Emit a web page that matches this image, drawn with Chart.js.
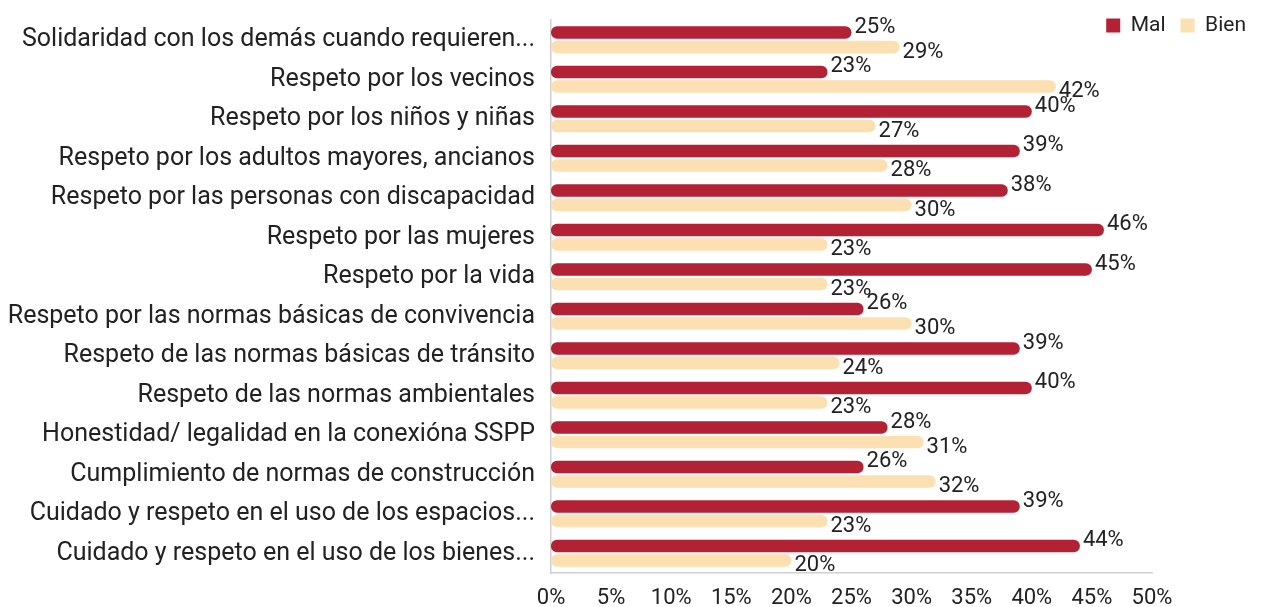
<!DOCTYPE html>
<html>
<head>
<meta charset="utf-8">
<script src="https://cdn.jsdelivr.net/npm/chart.js@4.4.0/dist/chart.umd.min.js"></script>
<style>
  html, body { margin: 0; padding: 0; background: #fff; }
  #wrap { width: 1261px; height: 607px; }
</style>
</head>
<body>
<div id="wrap"><canvas id="grafico"></canvas></div>
<script>
// datos
var categorias = [
  'Solidaridad con los demás cuando requieren...',
  'Respeto por los vecinos',
  'Respeto por los niños y niñas',
  'Respeto por los adultos mayores, ancianos',
  'Respeto por las personas con discapacidad',
  'Respeto por las mujeres',
  'Respeto por la vida',
  'Respeto por las normas básicas de convivencia',
  'Respeto de las normas básicas de tránsito',
  'Respeto de las normas ambientales',
  'Honestidad/ legalidad en la conexióna SSPP',
  'Cumplimiento de normas de construcción',
  'Cuidado y respeto en el uso de los espacios...',
  'Cuidado y respeto en el uso de los bienes...'
];
var valoresMal  = [25, 23, 40, 39, 38, 46, 45, 26, 39, 40, 28, 26, 39, 44];
var valoresBien = [29, 42, 27, 28, 30, 23, 23, 30, 24, 23, 31, 32, 23, 20];
var ticksX = [0, 5, 10, 15, 20, 25, 30, 35, 40, 45, 50];

var colorMal = '#b22234';
var colorBien = '#fde0b2';

// etiquetas de porcentaje al final de cada barra
var etiquetas = {
  id: 'etiquetas',
  afterLayout: function(chart) {
    // la leyenda no debe recortarse aunque ocupe poco alto
    chart.legend.bottom = chart.legend.top + 45;
  },
  afterDatasetsDraw: function(chart) {
    var ctx = chart.ctx;
    ctx.save();
    ctx.font = '22px Roboto';
    ctx.fillStyle = '#222';
    ctx.textBaseline = 'middle';
    ctx.textAlign = 'left';
    chart.data.datasets.forEach(function(ds, i) {
      var meta = chart.getDatasetMeta(i);
      var dy = i === 0 ? -5 : 5;
      meta.data.forEach(function(bar, j) {
        ctx.fillText(ds.data[j] + '%', bar.x + 3, bar.y + dy);
      });
    });
    ctx.restore();
  }
};

var ctxGrafico = document.getElementById('grafico').getContext('2d');
new Chart(ctxGrafico, {
  type: 'bar',
  data: {
    labels: categorias,
    datasets: [
      {
        label: 'Mal',
        data: valoresMal,
        backgroundColor: colorMal,
        borderRadius: 6,
        borderSkipped: false,
        categoryPercentage: 0.74,
        barPercentage: 0.86
      },
      {
        label: 'Bien',
        data: valoresBien,
        backgroundColor: colorBien,
        borderRadius: 6,
        borderSkipped: false,
        categoryPercentage: 0.74,
        barPercentage: 0.86
      }
    ]
  },
  options: {
    indexAxis: 'y',
    responsive: true,
    maintainAspectRatio: false,
    animation: false,
    layout: { padding: 0 },
    plugins: {
      tooltip: { enabled: false },
      legend: {
        position: 'top',
        align: 'end',
        maxHeight: 20,
        labels: {
          boxWidth: 14,
          boxHeight: 14,
          padding: 15,
          color: '#222',
          font: { family: 'Roboto', size: 21 }
        }
      }
    },
    scales: {
      x: {
        min: 0,
        max: 50,
        afterBuildTicks: function(s) {
          s.ticks = ticksX.map(function(v) { return { value: v }; });
        },
        afterFit: function(s) {
          s.height = 34;
          s.paddingLeft = 0;
          s.paddingRight = 0;
        },
        grid: { display: false, drawTicks: false },
        border: { display: true, color: '#cfcfcf', width: 1.5 },
        ticks: {
          padding: 12,
          color: '#222',
          font: { family: 'Roboto', size: 22 },
          callback: function(v) { return v + '%'; }
        }
      },
      y: {
        afterFit: function(s) {
          s.width = 551;
          s.paddingTop = 0;
          s.paddingBottom = 0;
        },
        grid: { display: false, drawTicks: false },
        border: { display: true, color: '#cfcfcf', width: 1.5 },
        ticks: {
          padding: 16,
          color: '#222',
          font: { family: 'Roboto', size: 25 }
        }
      },
      derecha: {
        type: 'linear',
        position: 'right',
        afterFit: function(s) { s.width = 109; },
        grid: { display: false, drawTicks: false },
        border: { display: false },
        ticks: { display: false }
      }
    }
  },
  plugins: [etiquetas]
});
</script>
</body>
</html>
